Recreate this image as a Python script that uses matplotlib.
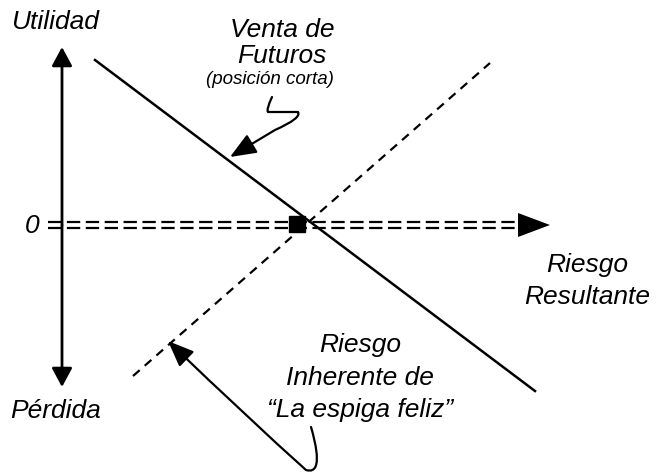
import matplotlib.pyplot as plt
from matplotlib.patches import FancyArrowPatch
from matplotlib.path import Path

plt.rcParams['font.family'] = ['Liberation Sans', 'DejaVu Sans']

# diagram coordinates (pixel-like units, y grows downward)
axis_x = 62
axis_top, axis_bottom = 47, 387
zero_y = 225
zero_line = [48, 522]
arrow_tip = 550

cross = (297, 224)
futures_line_x = [95, 535]
futures_line_y = [60, 391]
inherent_line_x = [133, 490]
inherent_line_y = [376, 63]

labels_main = {
    "Utilidad": (11, 22),
    "Pérdida": (10, 411),
    "0": (25, 226),
}

fig = plt.figure(figsize=(6.6, 4.76), dpi=100)
ax = fig.add_axes([0, 0, 1, 1])
ax.set_xlim(0, 660)
ax.set_ylim(476, 0)
ax.axis('off')

fs = 19
head = "-|>,head_length=1.15,head_width=0.62"
# vertical double arrow
for end in (axis_top, axis_bottom):
    ax.annotate("", xy=(axis_x, end), xytext=(axis_x, zero_y),
                arrowprops=dict(arrowstyle=head, lw=2, color='black', shrinkA=0, shrinkB=0))

# double dashed zero line
for dy in (-3, 3):
    ax.plot(zero_line, [zero_y + dy, zero_y + dy], color='black', lw=1.6,
            dashes=(6, 2.5))
ax.fill([zero_line[1] - 4, arrow_tip, zero_line[1] - 4],
        [zero_y - 12, zero_y, zero_y + 12], color='black', lw=0)

# lines
ax.plot(futures_line_x, futures_line_y, color='black', lw=1.8)
ax.plot(inherent_line_x, inherent_line_y, color='black', lw=1.6, dashes=(4, 3))
ax.plot([cross[0]], [cross[1]], marker='s', ms=11, color='black')

for txt, (x, y) in labels_main.items():
    ax.text(x, y, txt, fontsize=fs, style='italic', ha='left', va='center')

ax.text(282, 30, "Venta de", fontsize=fs, style='italic', ha='center', va='center')
ax.text(282, 56, "Futuros", fontsize=fs, style='italic', ha='center', va='center')
ax.text(270, 79, "(posición corta)", fontsize=13.5, style='italic', ha='center', va='center')

ax.text(587, 265, "Riesgo", fontsize=fs, style='italic', ha='center', va='center')
ax.text(587, 297, "Resultante", fontsize=fs, style='italic', ha='center', va='center')

ax.text(360, 345, "Riesgo", fontsize=fs, style='italic', ha='center', va='center')
ax.text(360, 378, "Inherente de", fontsize=fs, style='italic', ha='center', va='center')
ax.text(360, 410, "\u201cLa espiga feliz\u201d", fontsize=fs, style='italic', ha='center', va='center')

# curved callout arrows
verts1 = [(272, 97), (266, 110), (268, 112), (298, 112), (302, 118), (275, 130), (230, 157)]
codes1 = [Path.MOVETO, Path.CURVE3, Path.CURVE3, Path.LINETO, Path.CURVE3, Path.CURVE3, Path.LINETO]
ax.add_patch(FancyArrowPatch(path=Path(verts1, codes1),
                             arrowstyle="-|>,head_length=16,head_width=6.5", lw=1.6, color='black'))

verts2 = [(311, 427), (322, 465), (316, 473), (306, 470), (250, 420), (168, 341)]
codes2 = [Path.MOVETO, Path.CURVE4, Path.CURVE4, Path.CURVE4, Path.CURVE3, Path.CURVE3]
ax.add_patch(FancyArrowPatch(path=Path(verts2, codes2),
                             arrowstyle="-|>,head_length=16,head_width=6.5", lw=1.6, color='black'))

fig.savefig("out.png", dpi=100)
